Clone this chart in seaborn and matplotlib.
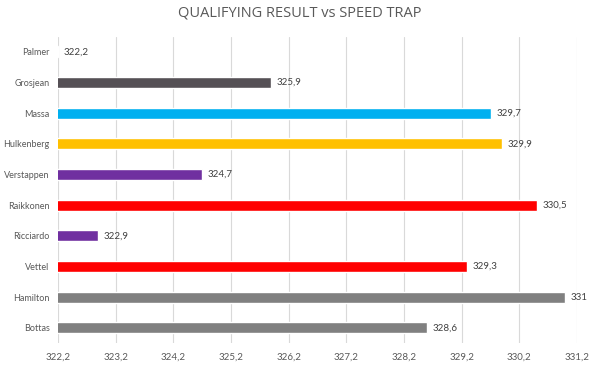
import matplotlib
matplotlib.use('Agg')
import matplotlib.pyplot as plt
import seaborn as sns
import pandas as pd

# speed trap values (km/h) per driver
drivers = ['Palmer', 'Grosjean', 'Massa', 'Hulkenberg', 'Verstappen',
           'Raikkonen', 'Ricciardo', 'Vettel', 'Hamilton', 'Bottas']
speeds = [322.2, 325.9, 329.7, 329.9, 324.7, 330.5, 322.9, 329.3, 331.0, 328.6]
colors = ['#595959', '#555055', '#00b0f0', '#ffc000', '#7030a0',
          '#ff0000', '#7030a0', '#ff0000', '#808080', '#808080']
ticks = [322.2, 323.2, 324.2, 325.2, 326.2, 327.2, 328.2, 329.2, 330.2, 331.2]

df = pd.DataFrame({'Driver': drivers, 'Speed': speeds})

sns.set_theme(style='white')
plt.rcParams['font.family'] = ['Lato', 'DejaVu Sans']

fig = plt.figure(figsize=(6, 3.66), dpi=100)
ax = fig.add_axes([0.0967, 0.062, 0.865, 0.838])

sns.barplot(data=df, x='Speed', y='Driver', hue='Driver', palette=colors,
            legend=False, width=0.36, ax=ax, orient='h', saturation=1)

ax.set_xlim(322.2, 331.2)
ax.set_xticks(ticks)
ax.set_xticklabels([f'{t:.1f}'.replace('.', ',') for t in ticks])
ax.grid(axis='x', color='#d9d9d9', linewidth=0.8)
ax.set_axisbelow(True)
for s in ax.spines.values():
    s.set_visible(False)

for cont, v in zip(ax.containers, speeds):
    lab = f'{v:g}'.replace('.', ',')
    ax.bar_label(cont, labels=[lab], padding=4, fontsize=7, color='#404040')

ax.tick_params(axis='x', length=0, labelsize=7, colors='#595959', pad=7)
ax.tick_params(axis='y', length=0, labelsize=6.5, colors='#595959', pad=6)
ax.set_xlabel('')
ax.set_ylabel('')

fig.suptitle('QUALIFYING RESULT vs SPEED TRAP', y=0.985, fontsize=10.5,
             color='#595959', fontfamily=['Open Sans', 'DejaVu Sans'])

fig.savefig('out.png', dpi=100)
